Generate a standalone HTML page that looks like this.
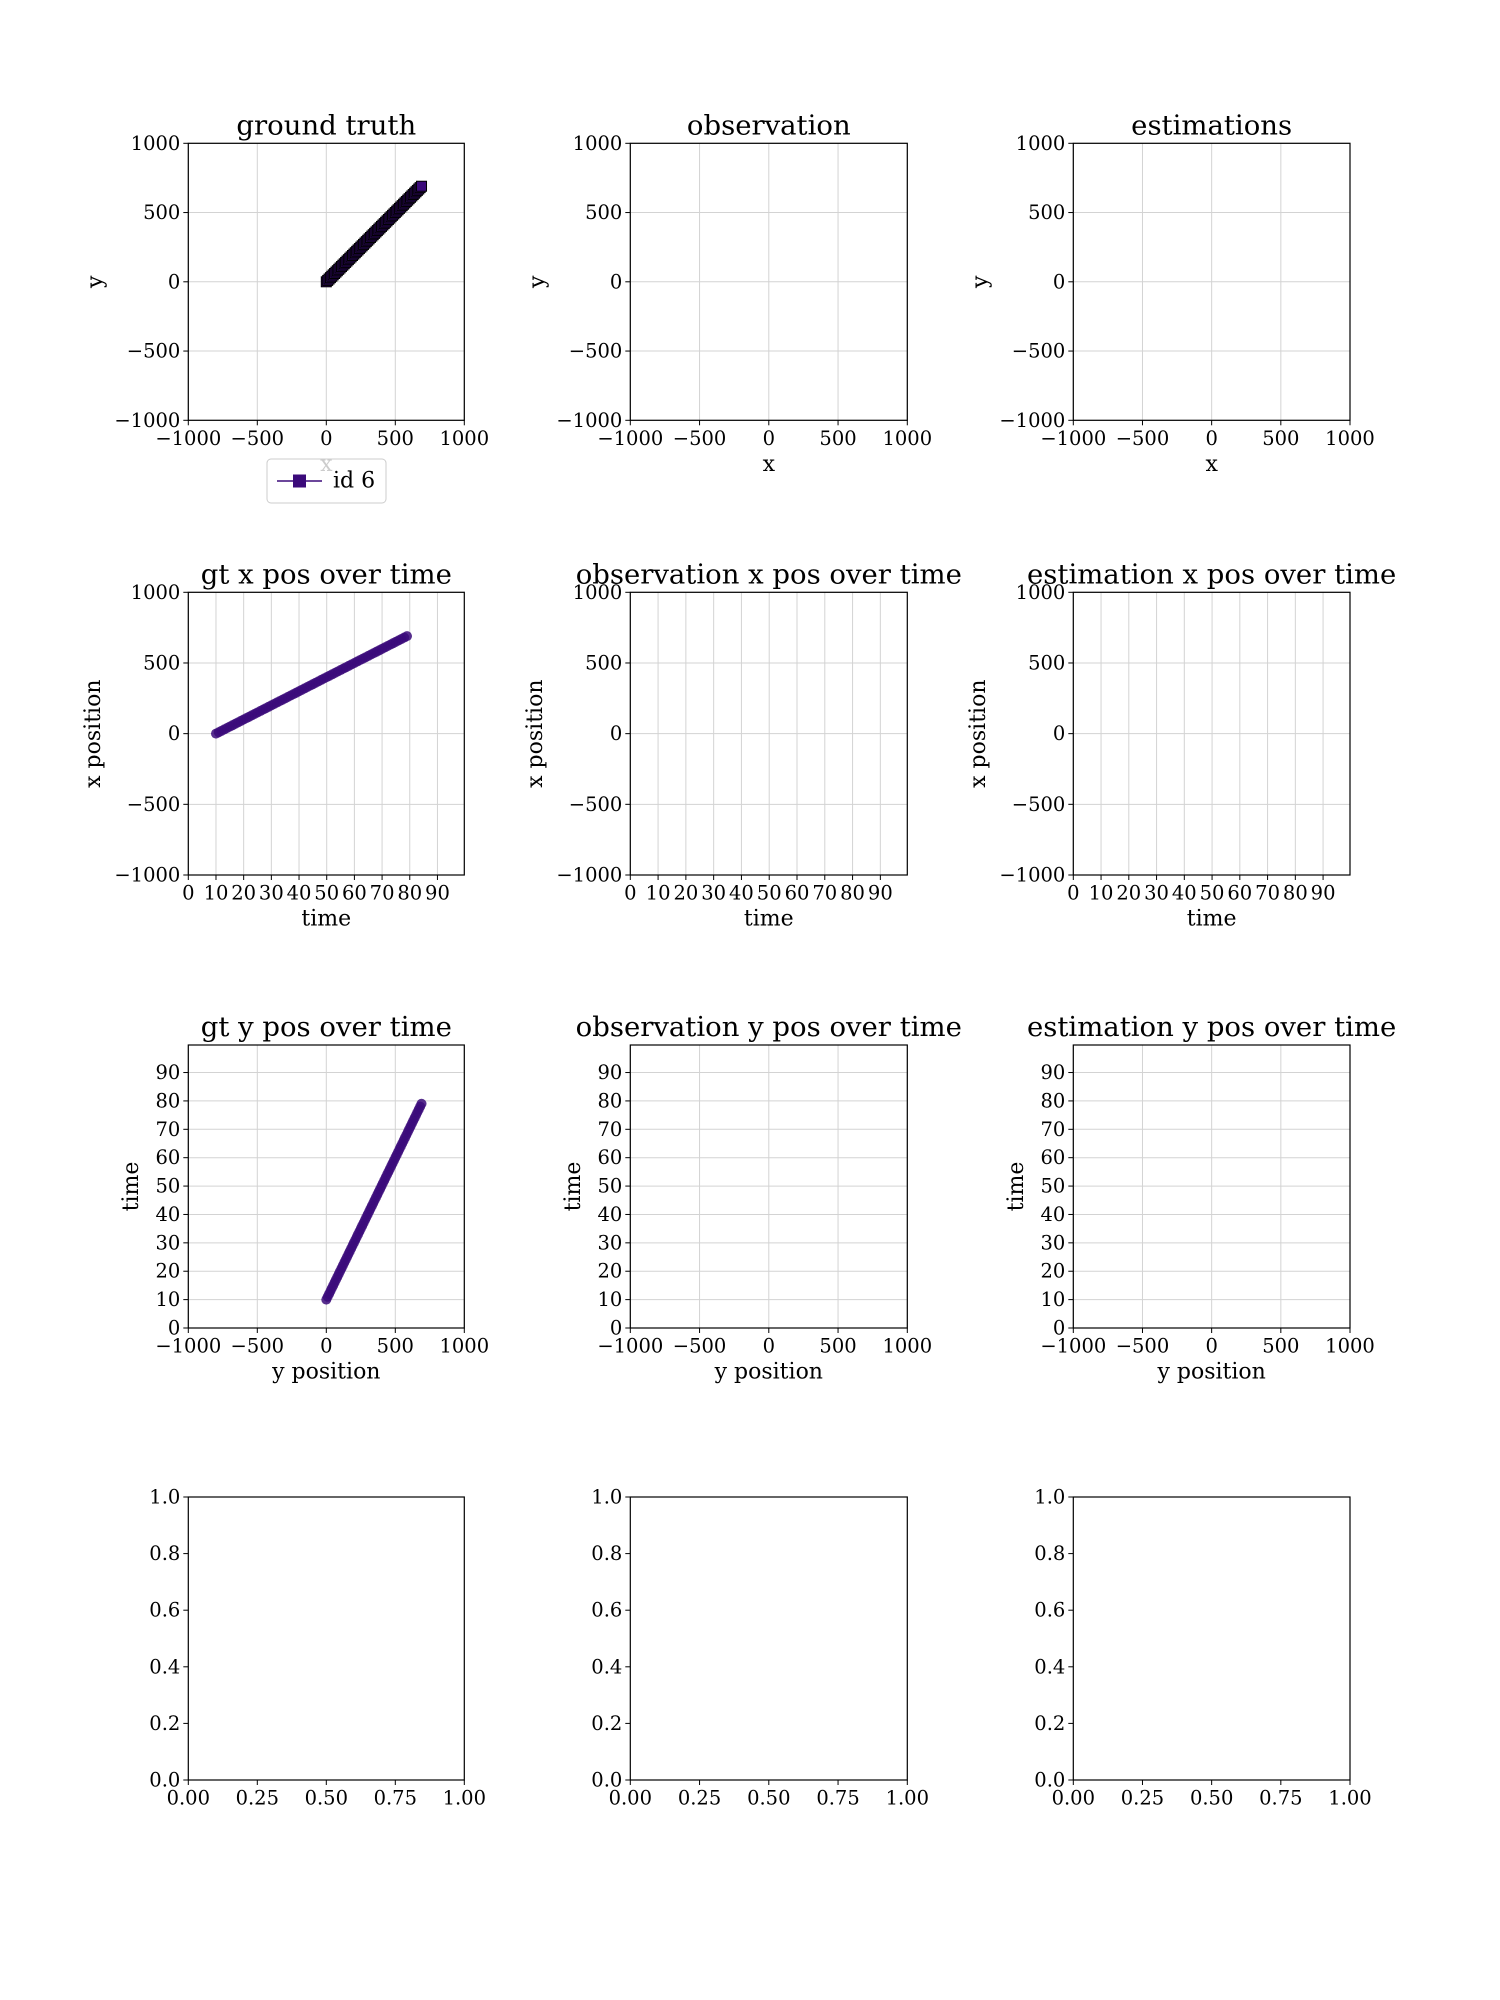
<!DOCTYPE html>
<html><head><meta charset="utf-8"><style>
html,body{margin:0;padding:0;background:#fff}
svg{display:block}
text{font-family:"DejaVu Serif","Liberation Serif",serif;fill:#000}
</style></head><body>
<svg id="fig" width="1500" height="2000" viewBox="0 0 1500 2000" xmlns="http://www.w3.org/2000/svg"></svg>
<script>
// ---- data ----
const gtTime = [10,11,12,13,14,15,16,17,18,19,20,21,22,23,24,25,26,27,28,29,30,31,32,33,34,35,36,37,38,39,40,41,42,43,44,45,46,47,48,49,50,51,52,53,54,55,56,57,58,59,60,61,62,63,64,65,66,67,68,69,70,71,72,73,74,75,76,77,78,79];
const gtX = [0,10,20,30,40,50,60,70,80,90,100,110,120,130,140,150,160,170,180,190,200,210,220,230,240,250,260,270,280,290,300,310,320,330,340,350,360,370,380,390,400,410,420,430,440,450,460,470,480,490,500,510,520,530,540,550,560,570,580,590,600,610,620,630,640,650,660,670,680,690];
const gtY = [0,10,20,30,40,50,60,70,80,90,100,110,120,130,140,150,160,170,180,190,200,210,220,230,240,250,260,270,280,290,300,310,320,330,340,350,360,370,380,390,400,410,420,430,440,450,460,470,480,490,500,510,520,530,540,550,560,570,580,590,600,610,620,630,640,650,660,670,680,690];
const posTicks = [-1000,-500,0,500,1000];
const timeTicks = [0,10,20,30,40,50,60,70,80,90];
const unitTicks = [0,0.25,0.5,0.75,1.0];
const unitYTicks = [0,0.2,0.4,0.6,0.8,1.0];
const legendLabels = ["id 6"];

const NS="http://www.w3.org/2000/svg";
const svg=document.getElementById('fig');
const COLOR="#3b0a7a";
const TICK=19.5, LAB=22, TIT=27.5;
function el(tag,attrs,parent){const e=document.createElementNS(NS,tag);for(const k in attrs)e.setAttribute(k,attrs[k]);(parent||svg).appendChild(e);return e;}
function txt(s,x,y,size,anchor,parent,rot){const t=el('text',{x:x,y:y,'font-size':size,'text-anchor':anchor||'middle','dominant-baseline':'central'},parent);if(rot)t.setAttribute('transform','rotate(-90 '+x+' '+y+')');t.textContent=s;return t;}
function fmtPos(v){return v<0?'\u2212'+Math.abs(v):String(v);}

const cols=[[188.3,464.3],[630.3,907.3],[1073.3,1350]];
const rows=[[143.3,420.3],[592.3,875],[1045,1328],[1497,1780]];
const colNames=['gt','observation','estimation'];

function makeAxes(ci,ri,opt){
  const [L,R]=cols[ci],[T,B]=rows[ri];
  const g=el('g',{});
  
  
  const sx=v=>L+(v-opt.xlim[0])/(opt.xlim[1]-opt.xlim[0])*(R-L);
  const sy=v=>B-(v-opt.ylim[0])/(opt.ylim[1]-opt.ylim[0])*(B-T);
  if(opt.grid){
    opt.xt.forEach(v=>{el('line',{x1:sx(v),x2:sx(v),y1:T,y2:B,stroke:'#d3d3d3','stroke-width':1},g);});
    opt.yt.forEach(v=>{el('line',{y1:sy(v),y2:sy(v),x1:L,x2:R,stroke:'#d3d3d3','stroke-width':1},g);});
  }
  const xa=el('g',{},g);
  
  
  opt.xt.forEach(v=>{el('line',{x1:sx(v),x2:sx(v),y1:B,y2:B+5,stroke:'#000','stroke-width':1},xa);txt(opt.xf(v),sx(v),B+18,TICK,'middle',xa);});
  const ya=el('g',{},g);
  
  
  opt.yt.forEach(v=>{el('line',{x1:L-5,x2:L,y1:sy(v),y2:sy(v),stroke:'#000','stroke-width':1},ya);txt(opt.yf(v),L-8,sy(v),TICK,'end',ya);});
  if(opt.title){const t=txt(opt.title,(L+R)/2,T-18,TIT,'middle',g);}
  if(opt.xlabel){const t=txt(opt.xlabel,(L+R)/2,B+44,LAB,'middle',g);}
  if(opt.ylabel){const t=txt(opt.ylabel,L-opt.ylOff,(T+B)/2,LAB,'middle',g,true);}
  const plot=el('g',{},g);
  
  
  return {g,plot,sx,sy,L,R,T,B};
}
function frame(a){el('rect',{x:a.L,y:a.T,width:a.R-a.L,height:a.B-a.T,fill:'none',stroke:'#000','stroke-width':1.2},a.g);}

const titles1=['ground truth','observation','estimations'];
for(let c=0;c<3;c++){
  const a=makeAxes(c,0,{name:colNames[c]+'-xy-chart',xlim:[-1000,1000],ylim:[-1000,1000],xt:posTicks,yt:posTicks,xf:fmtPos,yf:fmtPos,grid:true,title:titles1[c],xlabel:'x',ylabel:'y',ylOff:93});
  if(c===0){
    let d='';gtX.forEach((x,i)=>{d+=(i?'L':'M')+a.sx(x)+' '+a.sy(gtY[i]);});
    const p=el('path',{d:d,fill:'none',stroke:COLOR,'stroke-width':1.5},a.plot);
    
    
    gtX.forEach((x,i)=>{const r=el('rect',{x:a.sx(x)-5,y:a.sy(gtY[i])-5,width:10,height:10,fill:COLOR,stroke:'#000','stroke-width':1},a.plot);
      
      });
  }
  frame(a);
  const b=makeAxes(c,1,{name:colNames[c]+'-x-time-chart',xlim:[0,99.7],ylim:[-1000,1000],xt:timeTicks,yt:posTicks,xf:String,yf:fmtPos,grid:true,title:(c===0?'gt':colNames[c])+' x pos over time',xlabel:'time',ylabel:'x position',ylOff:95});
  if(c===0){gtTime.forEach((t,i)=>{const m=el('circle',{cx:b.sx(t),cy:b.sy(gtX[i]),r:5,fill:COLOR,'fill-opacity':0.85},b.plot);
      
      });}
  frame(b);
  const d3=makeAxes(c,2,{name:colNames[c]+'-y-time-chart',xlim:[-1000,1000],ylim:[0,99.7],xt:posTicks,yt:timeTicks,xf:fmtPos,yf:String,grid:true,title:(c===0?'gt':colNames[c])+' y pos over time',xlabel:'y position',ylabel:'time',ylOff:57});
  if(c===0){gtTime.forEach((t,i)=>{const m=el('circle',{cx:d3.sx(gtY[i]),cy:d3.sy(t),r:5,fill:COLOR,'fill-opacity':0.85},d3.plot);
      
      });}
  frame(d3);
  const e=makeAxes(c,3,{name:'empty-chart-'+(c+1),xlim:[0,1],ylim:[0,1],xt:unitTicks,yt:unitYTicks,xf:v=>v.toFixed(2),yf:v=>v.toFixed(1),grid:false});
  frame(e);
}
const lg=el('g',{});


el('rect',{x:267,y:459,width:119,height:44,rx:4,fill:'#fff','fill-opacity':0.8,stroke:'#ccc','stroke-width':1},lg);
el('line',{x1:277,x2:322,y1:481,y2:481,stroke:COLOR,'stroke-width':1.5},lg);
el('rect',{x:293.5,y:475,width:12,height:12,fill:COLOR,stroke:COLOR},lg);
const lt=txt(legendLabels[0],333,481,LAB,'start',lg);


</script>
</body></html>
